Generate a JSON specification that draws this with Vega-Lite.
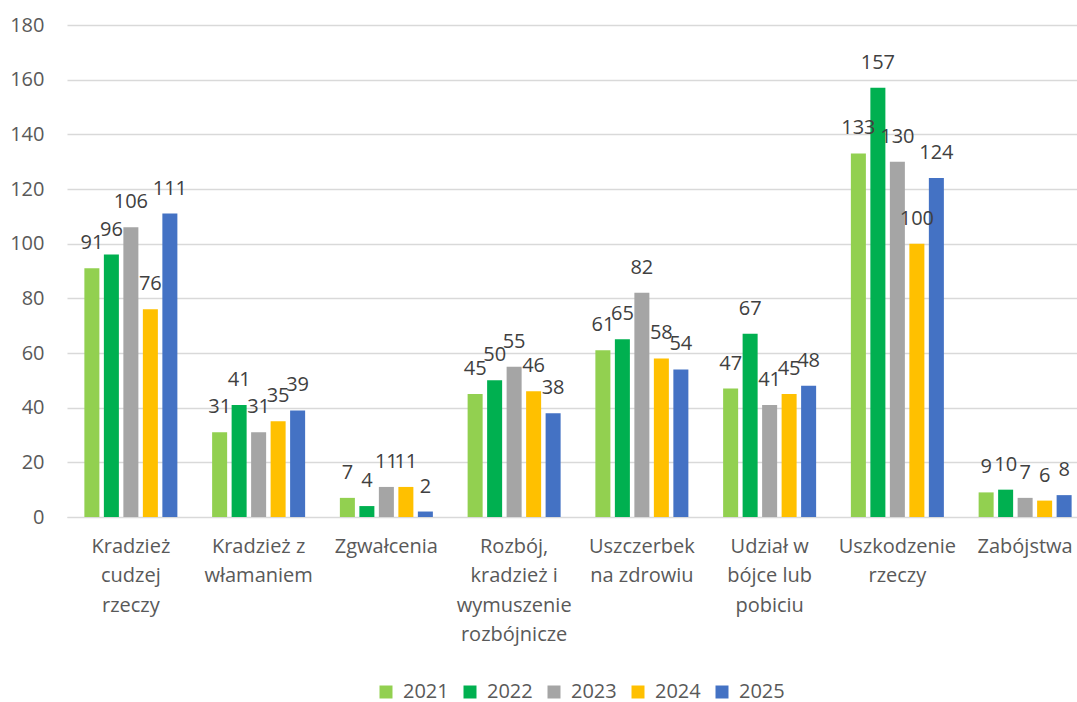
{
  "$schema": "https://vega.github.io/schema/vega-lite/v6.json",
  "autosize": {"type": "none"},
  "width": 1010,
  "height": 492,
  "padding": {"left": 67, "top": 25, "right": 0, "bottom": 185},
  "background": "white",
  "config": {
    "view": {"stroke": null},
    "font": "Open Sans",
    "axis": {"labelFont": "Open Sans", "labelColor": "#595959", "labelFontSize": 20}
  },
  "data": {
    "values": [
      {"cat": "Kradzież cudzej rzeczy", "year": "2021", "value": 91},
      {"cat": "Kradzież cudzej rzeczy", "year": "2022", "value": 96},
      {"cat": "Kradzież cudzej rzeczy", "year": "2023", "value": 106},
      {"cat": "Kradzież cudzej rzeczy", "year": "2024", "value": 76},
      {"cat": "Kradzież cudzej rzeczy", "year": "2025", "value": 111},
      {"cat": "Kradzież z włamaniem", "year": "2021", "value": 31},
      {"cat": "Kradzież z włamaniem", "year": "2022", "value": 41},
      {"cat": "Kradzież z włamaniem", "year": "2023", "value": 31},
      {"cat": "Kradzież z włamaniem", "year": "2024", "value": 35},
      {"cat": "Kradzież z włamaniem", "year": "2025", "value": 39},
      {"cat": "Zgwałcenia", "year": "2021", "value": 7},
      {"cat": "Zgwałcenia", "year": "2022", "value": 4},
      {"cat": "Zgwałcenia", "year": "2023", "value": 11},
      {"cat": "Zgwałcenia", "year": "2024", "value": 11},
      {"cat": "Zgwałcenia", "year": "2025", "value": 2},
      {"cat": "Rozbój, kradzież i wymuszenie rozbójnicze", "year": "2021", "value": 45},
      {"cat": "Rozbój, kradzież i wymuszenie rozbójnicze", "year": "2022", "value": 50},
      {"cat": "Rozbój, kradzież i wymuszenie rozbójnicze", "year": "2023", "value": 55},
      {"cat": "Rozbój, kradzież i wymuszenie rozbójnicze", "year": "2024", "value": 46},
      {"cat": "Rozbój, kradzież i wymuszenie rozbójnicze", "year": "2025", "value": 38},
      {"cat": "Uszczerbek na zdrowiu", "year": "2021", "value": 61},
      {"cat": "Uszczerbek na zdrowiu", "year": "2022", "value": 65},
      {"cat": "Uszczerbek na zdrowiu", "year": "2023", "value": 82},
      {"cat": "Uszczerbek na zdrowiu", "year": "2024", "value": 58},
      {"cat": "Uszczerbek na zdrowiu", "year": "2025", "value": 54},
      {"cat": "Udział w bójce lub pobiciu", "year": "2021", "value": 47},
      {"cat": "Udział w bójce lub pobiciu", "year": "2022", "value": 67},
      {"cat": "Udział w bójce lub pobiciu", "year": "2023", "value": 41},
      {"cat": "Udział w bójce lub pobiciu", "year": "2024", "value": 45},
      {"cat": "Udział w bójce lub pobiciu", "year": "2025", "value": 48},
      {"cat": "Uszkodzenie rzeczy", "year": "2021", "value": 133},
      {"cat": "Uszkodzenie rzeczy", "year": "2022", "value": 157},
      {"cat": "Uszkodzenie rzeczy", "year": "2023", "value": 130},
      {"cat": "Uszkodzenie rzeczy", "year": "2024", "value": 100},
      {"cat": "Uszkodzenie rzeczy", "year": "2025", "value": 124},
      {"cat": "Zabójstwa", "year": "2021", "value": 9},
      {"cat": "Zabójstwa", "year": "2022", "value": 10},
      {"cat": "Zabójstwa", "year": "2023", "value": 7},
      {"cat": "Zabójstwa", "year": "2024", "value": 6},
      {"cat": "Zabójstwa", "year": "2025", "value": 8}
    ]
  },
  "encoding": {
    "x": {
      "field": "cat",
      "type": "nominal",
      "sort": null,
      "title": null,
      "scale": {"range": [0, 1022], "paddingInner": 0.272, "paddingOuter": 0.136},
      "axis": {
        "labelAngle": 0,
        "domainColor": "#D9D9D9",
        "domainWidth": 1,
        "ticks": false,
        "labelPadding": 19,
        "labelLineHeight": 29.5,
        "labelLimit": 0,
        "labelExpr": "{'Kradzież cudzej rzeczy': ['Kradzież', 'cudzej', 'rzeczy'], 'Kradzież z włamaniem': ['Kradzież z', 'włamaniem'], 'Rozbój, kradzież i wymuszenie rozbójnicze': ['Rozbój,', 'kradzież i', 'wymuszenie', 'rozbójnicze'], 'Uszczerbek na zdrowiu': ['Uszczerbek', 'na zdrowiu'], 'Udział w bójce lub pobiciu': ['Udział w', 'bójce lub', 'pobiciu'], 'Uszkodzenie rzeczy': ['Uszkodzenie', 'rzeczy']}[datum.label] || datum.label"
      }
    },
    "xOffset": {
      "field": "year",
      "type": "nominal",
      "scale": {"paddingInner": 0.23, "paddingOuter": 0}
    },
    "y": {
      "field": "value",
      "type": "quantitative",
      "title": null,
      "scale": {"domain": [0, 180], "nice": false},
      "axis": {
        "values": [0, 20, 40, 60, 80, 100, 120, 140, 160, 180],
        "domain": false,
        "ticks": false,
        "labelPadding": 23,
        "gridColor": "#D9D9D9",
        "gridWidth": 1.3
      }
    }
  },
  "layer": [
    {
      "mark": {"type": "bar"},
      "encoding": {
        "color": {
          "field": "year",
          "type": "nominal",
          "title": null,
          "scale": {
            "domain": ["2021", "2022", "2023", "2024", "2025"],
            "range": ["#92D050", "#00B050", "#A5A5A5", "#FFC000", "#4472C4"]
          },
          "legend": {
            "orient": "none",
            "legendX": 309,
            "legendY": 657,
            "direction": "horizontal",
            "symbolType": "square",
            "symbolSize": 169,
            "symbolStrokeWidth": 0,
            "labelFontSize": 20,
            "labelFont": "Open Sans",
            "labelColor": "#595959",
            "labelOffset": 7,
            "columnPadding": 11
          }
        }
      }
    },
    {
      "mark": {"type": "text", "baseline": "middle", "align": "center", "dy": -25, "fontSize": 20, "font": "Open Sans", "color": "#404040"},
      "encoding": {
        "text": {"field": "value", "type": "quantitative"}
      }
    }
  ]
}
